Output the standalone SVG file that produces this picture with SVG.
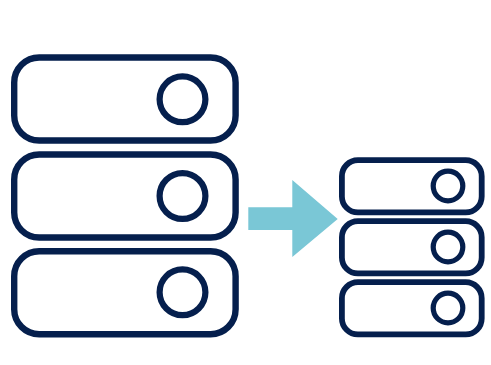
<svg xmlns="http://www.w3.org/2000/svg" width="491" height="365" viewBox="0 0 491 365">
<style>
.s{fill:#fff;stroke:#051f4d}
.r{stroke-width:6.4}
.c{stroke-width:6.2}
.m{stroke-width:5.8}
.k{stroke-width:5.2}
</style>
<rect width="491" height="365" fill="#fff"/>
<g id="server-large-1"><rect class="s r" x="14.2" y="57.5" width="221.4" height="83" rx="25"/><circle class="s c" cx="182.5" cy="99.3" r="22.9"/></g>
<g id="server-large-2"><rect class="s r" x="14.2" y="154.5" width="221.4" height="83" rx="25"/><circle class="s c" cx="182.5" cy="196" r="22.9"/></g>
<g id="server-large-3"><rect class="s r" x="14.2" y="251.2" width="221.4" height="83" rx="25"/><circle class="s c" cx="182.5" cy="292.3" r="22.9"/></g>
<g id="connectors"><polygon fill="#7ac7d6" points="248.3,207.3 292.3,207.3 292.3,180 337.7,219 292.3,257 292.3,230 248.3,230"/></g>
<g id="server-small-1"><rect class="s m" x="341.9" y="160.2" width="139.8" height="52.2" rx="16"/><circle class="s k" cx="448" cy="186" r="14.8"/></g>
<g id="server-small-2"><rect class="s m" x="341.9" y="221.2" width="139.8" height="52.2" rx="16"/><circle class="s k" cx="448" cy="247" r="14.8"/></g>
<g id="server-small-3"><rect class="s m" x="341.9" y="282.2" width="139.8" height="52.2" rx="16"/><circle class="s k" cx="448" cy="308" r="14.8"/></g>
</svg>
